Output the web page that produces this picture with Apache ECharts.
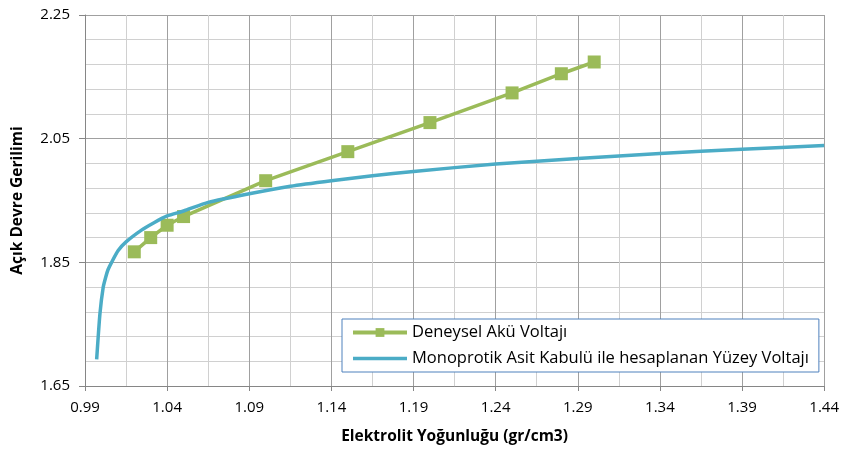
<!DOCTYPE html>
<html>
<head>
<meta charset="utf-8">
<script src="https://cdn.jsdelivr.net/npm/echarts@6/dist/echarts.min.js"></script>
<style>
html,body{margin:0;padding:0;background:#fff;}
#c{width:842px;height:450px;}
</style>
</head>
<body>
<div id="c"></div>
<script>
// Deneysel Akü Voltajı (measured)
const expX = [1.02, 1.03, 1.04, 1.05, 1.10, 1.15, 1.20, 1.25, 1.28, 1.30];
const expY = [1.867, 1.890, 1.910, 1.924, 1.982, 2.029, 2.076, 2.124, 2.155, 2.174];
// Monoprotik Asit Kabulü ile hesaplanan Yüzey Voltajı (calculated curve)
const calcX = [0.9971, 0.9991, 1.0011, 1.0026, 1.004, 1.0062, 1.0102, 1.015, 1.0244, 1.032, 1.04, 1.05, 1.065, 1.09, 1.115, 1.14, 1.165, 1.19, 1.24, 1.29, 1.34, 1.39, 1.44];
const calcY = [1.693, 1.767, 1.810, 1.826, 1.838, 1.850, 1.869, 1.883, 1.902, 1.914, 1.925, 1.933, 1.947, 1.961, 1.973, 1.982, 1.990, 1.997, 2.009, 2.018, 2.026, 2.033, 2.039];
const seriesNames = ['Deneysel Akü Voltajı', 'Monoprotik Asit Kabulü ile hesaplanan Yüzey Voltajı'];
const xTitle = 'Elektrolit Yoğunluğu (gr/cm3)';
const yTitle = 'Açık Devre Gerilimi';

const font = '"Open Sans", "Liberation Sans", sans-serif';
const chart = echarts.init(document.getElementById('c'), null, {renderer: 'canvas'});
chart.setOption({
  animation: false,
  backgroundColor: '#ffffff',
  grid: {left: 85, right: 16, top: 15, bottom: 64, containLabel: false},
  legend: {
    orient: 'vertical',
    left: 342, top: 319,
    padding: [5, 10, 5, 9],
    backgroundColor: '#ffffff',
    borderColor: '#4F81BD',
    borderWidth: 1,
    itemWidth: 54,
    itemHeight: 11,
    itemGap: 9,
    lineStyle: {width: 4},
    textStyle: {fontFamily: font, fontSize: 16.5, color: '#000'},
    data: [
      {name: seriesNames[0]},
      {name: seriesNames[1], icon: 'path://M0 0H60V4H0Z'}
    ]
  },
  xAxis: {
    type: 'value',
    min: 0.99, max: 1.44, interval: 0.05,
    name: xTitle,
    nameLocation: 'middle',
    nameGap: 43,
    nameTextStyle: {fontFamily: font, fontSize: 15.5, fontWeight: 'bold', color: '#000'},
    axisLine: {show: true, lineStyle: {color: '#868686', width: 1}},
    axisTick: {show: true, length: 5, lineStyle: {color: '#868686'}},
    axisLabel: {fontFamily: font, fontSize: 15, color: '#000', margin: 14, formatter: v => v.toFixed(2)},
    splitLine: {show: true, lineStyle: {color: '#a0a0a0', width: 1}},
    minorTick: {show: false, splitNumber: 2},
    minorSplitLine: {show: true, lineStyle: {color: '#d0d0d0', width: 1}}
  },
  yAxis: {
    type: 'value',
    min: 1.65, max: 2.25, interval: 0.2,
    name: yTitle,
    nameLocation: 'middle',
    nameGap: 59,
    nameTextStyle: {fontFamily: font, fontSize: 15.5, fontWeight: 'bold', color: '#000'},
    axisLine: {show: true, lineStyle: {color: '#868686', width: 1}},
    axisTick: {show: true, length: 6, lineStyle: {color: '#868686'}},
    axisLabel: {fontFamily: font, fontSize: 15, color: '#000', margin: 15, formatter: v => v.toFixed(2)},
    splitLine: {show: true, lineStyle: {color: '#a0a0a0', width: 1}},
    minorTick: {show: false, splitNumber: 5},
    minorSplitLine: {show: true, lineStyle: {color: '#d0d0d0', width: 1}}
  },
  series: [
    {
      name: seriesNames[0],
      type: 'line',
      data: expX.map((x, i) => [x, expY[i]]),
      symbol: 'rect',
      symbolSize: 13,
      itemStyle: {color: '#9BBB59'},
      lineStyle: {color: '#9BBB59', width: 3.5},
      z: 2
    },
    {
      name: seriesNames[1],
      type: 'line',
      data: calcX.map((x, i) => [x, calcY[i]]),
      symbol: 'none',
      smooth: 0.2,
      itemStyle: {color: '#4BACC6'},
      lineStyle: {color: '#4BACC6', width: 3.5},
      z: 3
    }
  ]
});
</script>
</body>
</html>
